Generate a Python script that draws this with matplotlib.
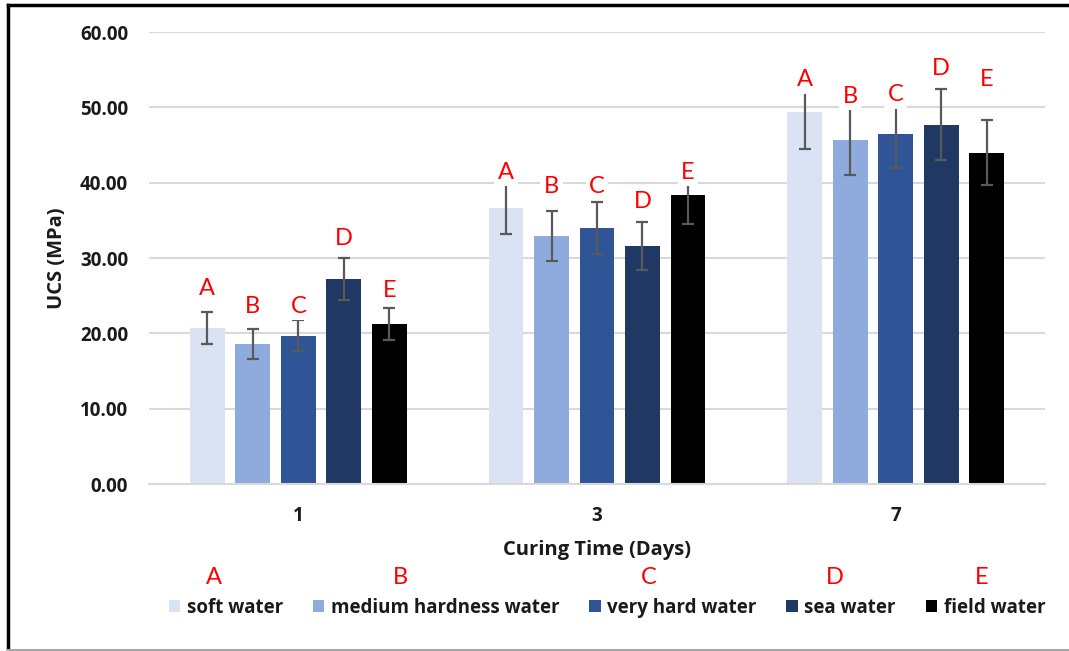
import matplotlib
matplotlib.use("Agg")
import matplotlib.pyplot as plt
import numpy as np
from matplotlib.lines import Line2D

# ---- data ----
curing_days = ["1", "3", "7"]
series_names = ["soft water", "medium hardness water", "very hard water", "sea water", "field water"]
series_letters = ["A", "B", "C", "D", "E"]
soft_water = [20.7, 36.6, 49.4]
medium_water = [18.6, 32.9, 45.6]
very_hard_water = [19.7, 34.0, 46.4]
sea_water = [27.2, 31.6, 47.7]
field_water = [21.2, 38.3, 44.0]
soft_err = [2.1, 3.45, 4.9]
medium_err = [2.0, 3.3, 4.6]
very_hard_err = [2.05, 3.45, 4.5]
sea_err = [2.75, 3.2, 4.75]
field_err = [2.15, 3.8, 4.35]
# heights (data units) of the red letter annotations above each bar
letter_heights_A = [25.9, 41.4, 53.7]
letter_heights_B = [23.5, 39.5, 51.5]
letter_heights_C = [23.6, 39.5, 51.7]
letter_heights_D = [32.6, 37.5, 55.2]
letter_heights_E = [25.7, 41.4, 53.7]
y_ticks = [0, 10, 20, 30, 40, 50, 60]

values = [soft_water, medium_water, very_hard_water, sea_water, field_water]
errors = [soft_err, medium_err, very_hard_err, sea_err, field_err]
letter_heights = [letter_heights_A, letter_heights_B, letter_heights_C, letter_heights_D, letter_heights_E]
colors = ["#dae3f3", "#8faadc", "#2f5597", "#203864", "#000000"]

W, H = 1069, 651
fig = plt.figure(figsize=(W / 100, H / 100), dpi=100)
ax = fig.add_axes([149 / W, 1 - 484 / H, (1045 - 149) / W, (484 - 32) / H])

bold = dict(family="Open Sans", weight="bold", color="#1a1a1a")
x = np.arange(len(curing_days))
pitch = 0.1523
width = 0.117
handles = []
for i, (vals, errs, c, name) in enumerate(zip(values, errors, colors, series_names)):
    xs = x + (i - 2) * pitch
    b = ax.bar(xs, vals, width=width, color=c, label=name, zorder=2)
    handles.append(b)
    ax.errorbar(xs, vals, yerr=errs, fmt="none", ecolor="#595959", elinewidth=1.6,
                capsize=4.3, capthick=1.6, zorder=3)
    for xi, hy in zip(xs, letter_heights[i]):
        ax.text(xi, hy, series_letters[i], ha="center", va="center", color="#ff0000",
                fontsize=17, family="Lato", zorder=4,
                bbox=dict(facecolor="white", edgecolor="none", pad=2.5))

ax.set_xlim(-0.5, 2.5)
ax.set_ylim(0, 60)
ax.set_yticks(y_ticks)
ax.set_yticklabels([f"{v:.2f}" for v in y_ticks], fontsize=13.5, **bold)
ax.set_xticks(x)
ax.set_xticklabels(curing_days, fontsize=13.5, **bold)
ax.tick_params(axis="both", length=0)
ax.tick_params(axis="y", pad=15)
ax.tick_params(axis="x", pad=16)
ax.grid(axis="y", color="#d9d9d9", linewidth=1.5, zorder=0)
ax.set_axisbelow(True)
for s in ["top", "right", "left"]:
    ax.spines[s].set_visible(False)
ax.spines["bottom"].set_color("#d9d9d9")
ax.spines["bottom"].set_linewidth(1.5)

fig.text(57 / W, 1 - 258 / H, "UCS (MPa)", rotation=90, ha="center", va="center", fontsize=14.5, **bold)
fig.text(597 / W, 1 - 550 / H, "Curing Time (Days)", ha="center", va="center", fontsize=14.5, **bold)

leg = fig.legend(handles=handles, labels=series_names, loc="center", ncol=5,
                 bbox_to_anchor=(607 / W, 1 - 608 / H), frameon=False,
                 prop=dict(family="Open Sans", weight="bold", size=13.5),
                 handlelength=0.6, handleheight=0.6, handletextpad=0.35, columnspacing=1.6,
                 borderaxespad=0, borderpad=0)
for t in leg.get_texts():
    t.set_color("#1a1a1a")

legend_letter_x = [214, 400, 649, 835, 982]
for lx, letter in zip(legend_letter_x, series_letters):
    fig.text(lx / W, 1 - 578 / H, letter, ha="center", va="center", color="#ff0000",
             fontsize=17, family="Lato")

# frame
fig.add_artist(Line2D([8 / W, 1.0], [1 - 5 / H, 1 - 5 / H], color="black", linewidth=2.5, transform=fig.transFigure))
fig.add_artist(Line2D([8 / W, 8 / W], [0, 1 - 5 / H], color="black", linewidth=2.5, transform=fig.transFigure))
fig.add_artist(Line2D([8 / W, 1.0], [1 - 650 / H, 1 - 650 / H], color="#a6a6a6", linewidth=1.5, transform=fig.transFigure))

fig.savefig("out.png", dpi=100)
